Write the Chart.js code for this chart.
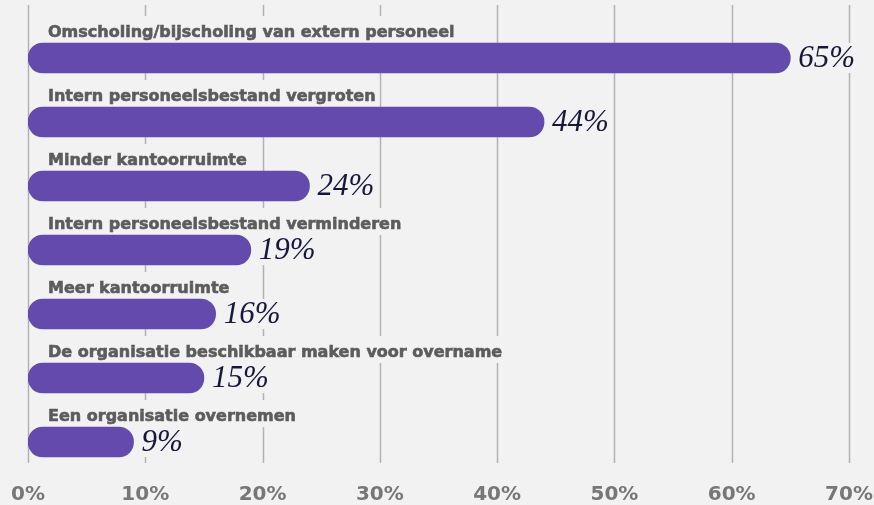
<!DOCTYPE html>
<html>
<head>
<meta charset="utf-8">
<script src="https://cdn.jsdelivr.net/npm/chart.js@4/dist/chart.umd.min.js"></script>
<style>
  html, body { margin: 0; padding: 0; background: #f2f2f2; }
  #wrap { width: 874px; height: 505px; }
</style>
</head>
<body>
<div id="wrap"><canvas id="chart" width="874" height="505"></canvas></div>
<script>
// Chart data
const categories = [
    'Omscholing/bijscholing van extern personeel',
    'Intern personeelsbestand vergroten',
    'Minder kantoorruimte',
    'Intern personeelsbestand verminderen',
    'Meer kantoorruimte',
    'De organisatie beschikbaar maken voor overname',
    'Een organisatie overnemen'
];
const percentages = [65, 44, 24, 19, 16, 15, 9];
const tickValues = [0, 10, 20, 30, 40, 50, 60, 70];

const BG = '#f2f2f2';
const BAR_COLOR = '#634aad';
const LABEL_FONT = 'bold 16px "DejaVu Sans", sans-serif';
const VALUE_FONT = 'italic 31px "Liberation Serif", serif';

// Grid lines plus the background boxes that hide them behind texts
const gridAndBoxes = {
    id: 'gridAndBoxes',
    beforeDatasetsDraw(chart) {
        const ctx = chart.ctx;
        const xScale = chart.scales.x;
        const meta = chart.getDatasetMeta(0);
        ctx.save();
        ctx.strokeStyle = '#b3b3b3';
        ctx.lineWidth = 1.5;
        tickValues.forEach(v => {
            const x = Math.round(xScale.getPixelForValue(v)) + 0.5;
            ctx.beginPath();
            ctx.moveTo(x, 5);
            ctx.lineTo(x, 463);
            ctx.stroke();
        });

        ctx.fillStyle = BG;
        meta.data.forEach((bar, i) => {
            const top = bar.y - 15;
            ctx.font = LABEL_FONT;
            const w = ctx.measureText(categories[i]).width;
            ctx.fillRect(42, top - 27, w + 10, 27);

            ctx.font = VALUE_FONT;
            const vw = ctx.measureText(percentages[i] + '%').width;
            ctx.fillRect(bar.x + 4, bar.y - 15, vw + 8, 30);
        });
        ctx.restore();
    },
    afterDatasetsDraw(chart) {
        const ctx = chart.ctx;
        const meta = chart.getDatasetMeta(0);
        ctx.save();
        meta.data.forEach((bar, i) => {
            ctx.font = LABEL_FONT;
            ctx.fillStyle = '#5c5c5c';
            ctx.strokeStyle = '#5c5c5c';
            ctx.lineWidth = 0.6;
            ctx.textAlign = 'left';
            ctx.textBaseline = 'alphabetic';
            ctx.fillText(categories[i], 48, bar.y - 21);
            ctx.strokeText(categories[i], 48, bar.y - 21);

            ctx.font = VALUE_FONT;
            ctx.fillStyle = '#16173d';
            ctx.textBaseline = 'middle';
            ctx.fillText(percentages[i] + '%', bar.x + 8, bar.y + 1);
        });
        ctx.restore();
    }
};

new Chart(document.getElementById('chart'), {
    type: 'bar',
    data: {
        labels: categories,
        datasets: [{
            data: percentages,
            backgroundColor: BAR_COLOR,
            borderRadius: 15,
            borderSkipped: false,
            barThickness: 30
        }]
    },
    options: {
        indexAxis: 'y',
        responsive: false,
        animation: false,
        events: [],
        layout: { padding: { left: 28, right: 25, top: 26, bottom: 0 } },
        plugins: {
            legend: { display: false },
            tooltip: { enabled: false }
        },
        scales: {
            x: {
                min: 0,
                max: 70,
                afterBuildTicks(scale) {
                    scale.ticks = tickValues.map(v => ({ value: v }));
                },
                afterFit(scale) {
                    scale.height = 31;
                    scale.paddingLeft = 0;
                    scale.paddingRight = 0;
                },
                grid: { display: false, drawTicks: false },
                border: { display: false },
                ticks: {
                    padding: 9,
                    color: '#777777',
                    font: { family: '"DejaVu Sans", sans-serif', size: 20, weight: 'bold' },
                    callback: v => v + '%'
                }
            },
            y: {
                display: false,
                offset: true,
                grid: { display: false }
            }
        }
    },
    plugins: [gridAndBoxes]
});
</script>
</body>
</html>
